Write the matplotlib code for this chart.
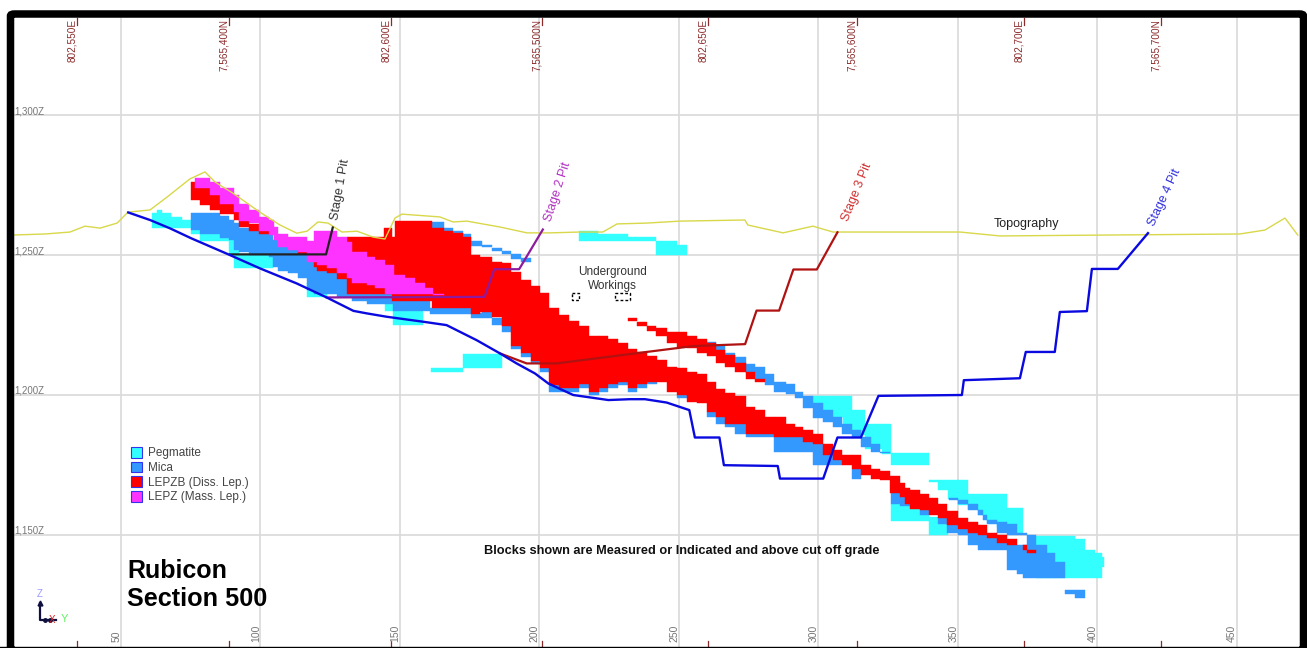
import numpy as np
from matplotlib import pyplot as plt
from matplotlib.patches import FancyBboxPatch, Patch

plt.rcParams['font.family'] = ['Liberation Sans', 'DejaVu Sans']

nan = np.nan

# section distance ticks and elevation ticks
section_ticks = [50, 100, 150, 200, 250, 300, 350, 400, 450]
elev_ticks = [1300, 1250, 1200, 1150]
elev_labels = ['1,300Z', '1,250Z', '1,200Z', '1,150Z']
grid_ticks = [34.2, 88.7, 146.8, 200.9, 260.4, 313.8, 373.6, 422.7]
grid_labels = ['802,550E', '7,565,400N', '802,600E', '7,565,500N',
               '802,650E', '7,565,600N', '802,700E', '7,565,700N']

# block columns: x edges, top elevation, bottom elevation
peg_x = [61.2, 62.8, 64.6, 67.9, 71.7, 75.1, 78.3, 85.5, 88.8, 90.6, 92.4, 104.6, 116.6, 119, 123.7, 144.6, 147.6, 158.4, 161, 172.5, 186.5,
         214.3, 221.1, 231.6, 241.8, 249.4, 252.8]
peg_top = [1265, 1266.1, 1265.2, 1263.5, 1262.6, 1259, 1257.6, 1256, 1255.4, 1251.8, 1250.6, nan, 1239.9, 1236.3, nan, 1232.7, 1230, nan, 1209.8, 1214.8, nan,
           1258.7, 1257.6, 1256.4, 1255.1, 1253.7]
peg_bot = [1259.9, 1259.9, 1259.9, 1259.9, 1259.9, 1257.6, 1255, 1255, 1250, 1245.3, 1245.3, nan, 1234.9, 1234.9, nan, 1230, 1225, nan, 1208.3, 1209.8, nan,
           1255.1, 1255.1, 1255.1, 1250.2, 1250.2]

peg2_x = [298.2, 301.7, 305.3, 308.7, 311.9, 316.7, 322.6, 325.9, 339.6, 343, 346.5, 350.1, 353.7, 357.3, 360.5, 363.9, 367.5, 373.2, 378,
          392, 395.5, 399.1, 401.5, 402.4]
peg2_top = [1199.7, 1199.7, 1199.7, 1199.7, 1194.8, 1189.6, 1189.6, 1179.4, 1169.7, 1169.7, 1169.7, 1169.7, 1164.7, 1164.7, 1164.7, 1164.7, 1159.6, nan, 1149.6,
            1148.6, 1144.7, 1143.5, 1142.1]
peg2_bot = [1197, 1194, 1192.2, 1189.2, 1185.6, 1180.8, 1178.8, 1175.1, 1168.9, 1165.9, 1162.9, 1160.6, 1159.4, 1157, 1154.6, 1152.8, 1150.7, nan, 1134.7,
            1134.7, 1134.7, 1134.7, 1138.5]

peg3_x = [325.9, 329.2, 332.8, 336.4, 339.6, 343, 346.5]
peg3_top = [1160.9, 1160.2, 1159.4, 1157.6, 1156.4, 1154.6]
peg3_bot = [1154.9, 1154.9, 1154.9, 1154.9, 1149.8, 1149.8]

mica_x = [75.1, 78.3, 85.5, 88.8, 90.6, 92.4, 95.9, 99.6, 103.2, 104.6, 106.4, 110, 113.3, 116.6, 119, 123.7, 127.3, 132.7, 138.1, 144.6, 147.6, 151.8, 160.8, 175.5, 179.3, 182.9, 186.5, 189.7,
          193.2, 196.8, 200.2, 203.5, 207.1, 214.3, 217.6, 221.2, 224.7, 228.2, 231.8, 235.1, 238.4, 242, 249.4, 252.8, 259.9, 263.3, 266.5, 270.1, 274, 284, 298.2, 301.7, 308.3, 311.9, 315.2]
mica_top = [1265.2, 1265.2, 1264, 1262.6, 1261.4, 1259.9, 1258.8, 1257.6, 1257.2, 1255.4, 1253, 1251.8, 1251.2, 1250, 1247.7, 1245.3, 1243.5, 1241.3, 1239.7, 1237.5, 1236.3, 1233.9, 1231.2, 1229.2, 1230, 1227.7, 1225, 1217.5,
            1214.9, 1212.5, 1209.7, 1203.5, 1202.6, 1203.8, 1201.2, 1202.4, 1203.8, 1204.5, 1202.4, 1203.9, 1204.5, nan, 1200, nan, 1194, 1192, 1189.6, 1189.6, 1186, 1184.8, 1182.4, 1178.5, nan, 1173.4]
mica_bot = [1259, 1257.6, 1256, 1255.4, 1251.8, 1251.2, 1250, 1250, 1249.4, 1245.9, 1244.4, 1243.5, 1242, 1237.5, 1236.1, 1236.1, 1234.9, 1233.7, 1232.7, 1232.7, 1230.1, 1230.1, 1228.9, 1227.7, 1227.7, 1225, 1222.6, 1216.3,
            1213.7, 1211.3, 1208.3, 1201.2, 1201.2, 1202.4, 1200, 1201.2, 1202.4, 1203.5, 1201.2, 1202.4, 1203.8, nan, 1198.8, nan, 1192.2, 1189.8, 1188.4, 1186, 1184.8, 1179.7, 1174.9, 1174.9, nan, 1169.8]

mica2_x = [325.9, 329.2, 332.8, 336.4, 339.6, 343, 346.2, 350.1, 353.7, 357.3, 360.5, 363.9, 367.5, 371.3, 373.2, 381.8, 384.8, 388.4]
mica2_top = [1165, 1163.5, nan, 1159, nan, 1156.4, 1153.8, 1152.2, 1150.7, 1149.8, 1149.2, 1147.1, 1146.2, 1146.2, 1146.2, 1143.5, 1140.3]
mica2_bot = [1160.9, 1160.2, nan, 1157.2, nan, 1153.8, 1150.7, 1149.8, 1146.2, 1144.7, 1144.7, 1144.7, 1137.3, 1136.1, 1134.7, 1134.7, 1134.7]

mica_up_x = [161.4, 165.6, 169.1, 172.5, 175.5, 179.3, 183.1, 186.5, 189.9, 193.2, 197.1]
mica_up_top = [1262, 1259.9, 1258.8, 1257.6, 1255, 1253.6, 1252.7, 1251.5, 1250.3, 1249.1]
mica_up_bot = [1259.9, 1258.8, 1257.6, 1255, 1253.4, 1252.8, 1251.5, 1250.3, 1248.8, 1247.4]

mica_mid_x = [259.9, 263.3, 266.5, 270.1, 274, 277.4, 280.8, 284, 288.4, 291.6, 294.6, 298.2, 301.7, 305.1, 308.3, 311.9, 315.2, 318.7, 322, 325.6]
mica_mid_top = [1218.8, 1217.5, 1214.9, 1213.7, 1211.1, 1209.9, 1207.4, 1204.5, 1203.8, 1200.9, 1199.7, 1197.3, 1194.6, 1192.2, 1189.6, 1187.4, 1184.8, 1182.4, 1179.7]
mica_mid_bot = [1217.5, 1214.9, 1213.4, 1211.1, 1207.7, 1205.6, 1203.5, 1201.2, 1200.2, 1198.8, 1195.2, 1191.6, 1190.4, 1188.6, 1186.2, 1185.1, 1181.5, 1179.7, 1179.1]

mica_low_x = [346.9, 350.1, 353.7, 357.3, 359.1, 360.5, 363.9, 367.5, 371.3, 374.6, 378]
mica_low_top = [1163.3, 1162.3, 1160.9, 1158.8, 1157.2, 1155.2, 1154.6, 1153.8, 1150.7, 1149.8]
mica_low_bot = [1162.6, 1160.9, 1158.8, 1157.2, 1155.2, 1153.8, 1150.7, 1149.8, 1149.8, 1146.2]

mica_tail_x = [388.4, 392, 395.5]
mica_tail_top = [1130.1, 1130.1]
mica_tail_bot = [1128.9, 1127.4]

lepzb_left_x = [75.1, 78.3, 81.9, 85.5, 90.6, 92.4, 95.9, 99.6, 103.2, 113.3, 116.6]
lepzb_left_top = [1276.3, 1273.9, 1272, 1269, 1266, 1263, 1261, 1259, nan, 1251.5]
lepzb_left_bot = [1269.7, 1267.9, 1266.1, 1264.9, 1262.6, 1260, 1258.8, 1257.6, nan, 1250.3]

lepzb_x = [119, 120.2, 123.8, 127.3, 130.9, 144.3, 147.1, 148.2, 161.4, 165.6, 169.1, 172.5, 175.5, 178.7,
           183.1, 186.4, 189.7, 193.2, 196.8, 200.2, 203.5, 207.1, 210.7, 214.3, 217.6, 221.2, 224.7, 228.2, 231.8, 235.1, 238.4, 242,
           245.8, 249.4, 252.8, 256.3, 259.9, 263.3, 266.5, 270.1, 274, 277.4, 280.8, 284, 288.4, 291.6, 294.6, 298.2, 301.7, 305.1, 308.3, 311.9, 315.2, 318.7, 322, 325.6,
           329.2, 331, 332.8, 336.4, 339.6, 343, 346.2, 350.1, 353.7, 357.3, 360.5, 363.9, 367.5, 371.3]
lepzb_top = [1248, 1247, 1246, 1244, 1256.4, 1259.9, 1256.4, 1262.3, 1259.9, 1258.8, 1257.8, 1256.4, 1250,
             1249.5, 1247.7, 1247.1, 1244.1, 1241.1, 1239, 1236.4, 1231.3, 1228.6, 1226.5, 1224.7, 1221.2, 1221.2, 1220.2, 1218.7, 1216.3, 1215.5, 1213.9, 1212.5,
             1210.1, 1209.5, 1208.3, 1207.4, 1204.7, 1202, 1200.8, 1199.6, 1195.8, 1194.8, 1192.2, 1192.2, 1189.6, 1188.4, 1187.4, 1186, 1182.4, 1180.3, 1178.5, 1178.5, 1174.9, 1173.7, 1172.9, 1171.1,
             1168.6, 1166.9, 1165.9, 1164.7, 1163.3, 1160.9, 1158.5, 1156.1, 1154.6, 1153.4, 1150.7, 1149.8, 1148.6]
lepzb_bot = [1245.7, 1244.5, 1243.7, 1241.5, 1236.1, 1236.1, 1233.5, 1233.5, 1231.2, 1231.2, 1231.2, 1231.2, 1228.9,
             1229.8, 1227.8, 1224.7, 1217.5, 1214.9, 1212.3, 1209.5, 1203.5, 1202.6, 1202.4, 1203.8, 1201.2, 1202.4, 1203.8, 1204.5, 1202.4, 1203.9, 1204.5, 1204.7,
             1201.2, 1200, 1197.6, 1197.2, 1194, 1192, 1189.6, 1189.6, 1186, 1186, 1186, 1184.8, 1184.8, 1184.8, 1183.3, 1182.4, 1178.5, 1176.9, 1174.9, 1173.4, 1171.3, 1169.8, 1169.5, 1165,
             1163.5, 1160.9, 1159.4, 1158.8, 1157.2, 1156.1, 1153.4, 1152.2, 1150.7, 1149.8, 1148.9, 1147.1, 1146.2]

lepzb_up_x = [231.8, 235.1, 238.4, 241.8, 245.8, 249.4, 252.8, 256.3, 259.9, 263.3, 266.5, 270.1, 274, 277.4, 280.8]
lepzb_up_top = [1227.6, 1226.2, 1224.8, 1223.8, 1222.6, 1222.6, 1221.2, 1220.2, 1218.5, 1216.1, 1214.3, 1211.3, 1208.3, 1205.9]
lepzb_up_bot = [1226.5, 1224.8, 1222.9, 1221.2, 1218.7, 1217.3, 1216.7, 1214.9, 1214, 1211.3, 1210.1, 1208.3, 1205.9, 1204.5]

lepzb_tip_x = [373.2, 374.6, 378]
lepzb_tip_top = [1146.2, 1144.7]
lepzb_tip_bot = [1144.7, 1143.5]

lepz_x = [76.5, 81.9, 85.5, 90.6, 92.4, 95.9, 99.6, 103.2, 104.9, 106.4, 110, 113.3, 116.6, 119, 120.2, 123.8, 127.3, 130.9, 132.7, 138.1, 141.1, 144.7, 147.7, 151.8, 155.4, 159, 162, 165.6]
lepz_top = [1277.7, 1276.3, 1273.9, 1271.5, 1268.5, 1266.1, 1263.5, 1262.6, 1260.2, 1257.6, 1256.4, 1256.4, 1255.2, 1258.8, 1258.8, 1258.8, 1256.6, 1254.8, 1251.2, 1249.4, 1248.3, 1246.5, 1242.9, 1241.7, 1239.9, 1238.1, 1236.3]
lepz_bot = [1273.9, 1271.5, 1268.5, 1265.6, 1262.2, 1261.4, 1258.8, 1257.2, 1255.4, 1253, 1251.8, 1251.2, 1247.7, 1247.7, 1246.5, 1245.3, 1243.5, 1241.7, 1239.9, 1239.3, 1238.1, 1236.3, 1236.1, 1236.1, 1236.1, 1236.1, 1235.6]

# lines
topo_x = [10.2, 22.8, 31.7, 37.1, 42.5, 48.6, 52.5, 60.4, 66.5, 74.7, 80.1, 83.7, 90.1, 99.8, 107, 113, 116.7, 120.6, 124.2, 129.2, 134.6, 140.3, 144.6, 148.2, 150.7, 164.3, 169, 174, 185.8, 195.5, 203.8, 214.5, 222.7, 227.8, 238.5, 250.3, 273.6, 274.7, 287.3, 298, 305.2, 329.2, 350.7, 365, 400.9, 451, 460, 467.2, 471.8]
topo_z = [1257.2, 1257.6, 1258.3, 1260.4, 1259.7, 1261.5, 1265.4, 1266.2, 1270.8, 1277.3, 1279.8, 1276.2, 1272.2, 1265.4, 1260.8, 1257.9, 1258.6, 1261.9, 1261.5, 1258.3, 1258.6, 1256.5, 1255.8, 1263.3, 1264.7, 1263.7, 1261.9, 1262.2, 1260.1, 1258, 1258, 1258.3, 1258.3, 1261.2, 1261.5, 1262.2, 1262.6, 1260.8, 1258, 1260.4, 1258.3, 1258.3, 1258.3, 1256.9, 1257.2, 1257.6, 1259, 1263.3, 1257.2]

stage1_x = [125.9, 123.5, 89.1]
stage1_z = [1259.9, 1250.3, 1250.3]
stage2_x = [201.2, 192.7, 183.8, 180.3, 123.7]
stage2_z = [1259.2, 1245, 1245, 1235.1, 1234.9]
stage3_x = [306.8, 299.4, 291, 285.9, 277.8, 273.7, 255.1, 236, 206.1, 195.4, 185.8]
stage3_z = [1258.2, 1244.9, 1244.9, 1230.2, 1230.2, 1218.2, 1217.5, 1215.1, 1211.3, 1211.3, 1214.9]
stage4_x = [52.6, 60.4, 67.6, 75.3, 88.5, 99.8, 113, 123.7, 133.3, 138.1, 145.2, 158.4, 166.7, 177.5, 185.8, 191.8, 198.4, 203.2, 212.1, 224.7, 232.4, 237.8, 245.6, 253.7, 255.7, 264.5, 266.1, 285.4, 286.2, 301.7, 306.8, 315.2, 321.5, 351.4, 352.1, 372.2, 374.3, 384.7, 386.5, 396.2, 398, 407.3, 418.1]
stage4_z = [1265.3, 1262.6, 1259.6, 1256, 1250.3, 1245.3, 1239.9, 1234.9, 1230.1, 1229.2, 1228, 1226.2, 1225, 1219.6, 1214.9, 1211.3, 1207.7, 1204.1, 1200, 1198.2, 1198.5, 1198.5, 1197.3, 1194.6, 1184.8, 1184.8, 1174.9, 1174.6, 1170.1, 1170.1, 1184.8, 1184.8, 1199.7, 1200, 1205.3, 1206, 1215.4, 1215.4, 1229.7, 1230, 1245.1, 1245.1, 1257.9]

legend_names = ['Pegmatite', 'Mica', 'LEPZB (Diss. Lep.)', 'LEPZ (Mass. Lep.)']

PEG = '#33ffff'
MICA = '#3399ff'
RED = '#ff0000'
MAG = '#ff33ff'
TICK_RED = '#8b2a2a'
W, H = 1307, 648


def blocks(ax, x, top, bot, color, z=2):
    edges = np.array(x)
    top = np.array(top)
    bot = np.array(bot)
    ax.bar(edges[:-1], top - bot, width=np.diff(edges), bottom=bot, align='edge',
           color=color, edgecolor=color, linewidth=0.3, zorder=z)


def fig_text(x, y, s, **kw):
    # position given in picture pixels, for the annotation layer
    return fig.text(x / W, 1 - y / H, s, **kw)


fig = plt.figure(figsize=(W / 100, H / 100), dpi=100)
ax = fig.add_axes([0, 0, 1, 1])
ax.set_xlim(6.63, 475.1)
ax.set_ylim(1109.5, 1341.3)
ax.axis('off')

for v in section_ticks:
    ax.plot([v, v], [1109.5, 1335], color='#d9d9d9', lw=1.2, zorder=1)
    ax.text(v - 1.7, 1111.5, str(v), rotation=90, ha='center', va='bottom', fontsize=7.5, color='#777777')
for v, lab in zip(elev_ticks, elev_labels):
    ax.plot([11, 472], [v, v], color='#d9d9d9', lw=1.2, zorder=1)
    ax.text(11.8, v - 0.3, lab, ha='left', va='bottom', fontsize=7, color='#777777')
for v, lab in zip(grid_ticks, grid_labels):
    ax.plot([v, v], [1332.5, 1335], color=TICK_RED, lw=0.9, zorder=1)
    ax.plot([v, v], [1109.5, 1112], color=TICK_RED, lw=0.9, zorder=1)
    ax.text(v - 1.8, 1334.4, lab, rotation=90, ha='center', va='top', fontsize=7.2, color=TICK_RED)

blocks(ax, peg_x, peg_top, peg_bot, PEG)
blocks(ax, peg2_x, peg2_top, peg2_bot, PEG)
blocks(ax, peg3_x, peg3_top, peg3_bot, PEG)
blocks(ax, mica_x, mica_top, mica_bot, MICA, 3)
blocks(ax, mica2_x, mica2_top, mica2_bot, MICA, 3)
blocks(ax, mica_up_x, mica_up_top, mica_up_bot, MICA, 3)
blocks(ax, mica_mid_x, mica_mid_top, mica_mid_bot, MICA, 3)
blocks(ax, mica_low_x, mica_low_top, mica_low_bot, MICA, 3)
blocks(ax, mica_tail_x, mica_tail_top, mica_tail_bot, MICA, 3)
blocks(ax, lepzb_left_x, lepzb_left_top, lepzb_left_bot, RED, 4)
blocks(ax, lepzb_x, lepzb_top, lepzb_bot, RED, 4)
blocks(ax, lepzb_up_x, lepzb_up_top, lepzb_up_bot, RED, 4)
blocks(ax, lepzb_tip_x, lepzb_tip_top, lepzb_tip_bot, RED, 4)
blocks(ax, lepz_x, lepz_top, lepz_bot, MAG, 5)

ax.plot(topo_x, topo_z, color='#d8d84a', lw=1.0, zorder=6)
ax.plot(stage3_x, stage3_z, color='#b01212', lw=1.6, zorder=7)
ax.plot(stage2_x, stage2_z, color='#8e1a9e', lw=1.6, zorder=7)
ax.plot(stage4_x, stage4_z, color='#0a0ae0', lw=1.7, zorder=8)
ax.plot(stage1_x, stage1_z, color='#222222', lw=1.6, zorder=7)

ax.text(128.5, 1273.5, 'Stage 1 Pit', rotation=80, ha='center', va='center', fontsize=9, color='#333333')
ax.text(206.6, 1272.6, 'Stage 2 Pit', rotation=72, ha='center', va='center', fontsize=9, color='#b030c0')
ax.text(313.8, 1272.6, 'Stage 3 Pit', rotation=68, ha='center', va='center', fontsize=9, color='#d03030')
ax.text(424.1, 1270.8, 'Stage 4 Pit', rotation=65, ha='center', va='center', fontsize=9, color='#3030e0')
ax.text(374.4, 1261.2, 'Topography', ha='center', va='center', fontsize=9, color='#222222')
ax.text(226.3, 1241.5, 'Underground\nWorkings', ha='center', va='center', fontsize=8.5, color='#333333', linespacing=1.15)
ax.text(251, 1144.2, 'Blocks shown are Measured or Indicated and above cut off grade',
        ha='center', va='center', fontsize=9.2, fontweight='bold', color='#111111')

# underground workings voids
ax.plot([211.5, 214, 214, 211.5, 211.5], [1236.5, 1236.5, 1234, 1234, 1236.5], color='k', lw=1, ls=(0, (2, 1.5)), zorder=6)
ax.plot([227, 232.5, 232.5, 227, 227], [1236.5, 1236.5, 1234, 1234, 1236.5], color='k', lw=1, ls=(0, (2, 1.5)), zorder=6)

handles = [Patch(facecolor=c, edgecolor='#3333ee', linewidth=0.8) for c in [PEG, MICA, RED, MAG]]
ax.legend(handles, legend_names, loc='upper left', bbox_to_anchor=(131 / W, 1 - 447 / H), frameon=False,
          fontsize=8.5, labelcolor='#444444', handlelength=0.97, handleheight=1.0, handletextpad=0.45,
          labelspacing=0.2, borderpad=0, borderaxespad=0)

fig_text(127, 578, 'Rubicon', fontsize=18, fontweight='bold', color='black')
fig_text(127, 606, 'Section 500', fontsize=18.2, fontweight='bold', color='black')

# axis triad
fig.add_artist(plt.Line2D([40 / W, 40 / W, 56 / W], [1 - 603 / H, 1 - 620 / H, 1 - 620 / H], color='#101040', lw=1.6))
fig.add_artist(plt.Line2D([40 / W], [1 - 603 / H], color='#101040', marker='^', markersize=3.5))
fig.add_artist(plt.Line2D([45 / W, 50 / W], [1 - 620 / H, 1 - 620 / H], color='#101040', marker='o', markersize=2.5, lw=0))
fig_text(37, 597, 'Z', fontsize=7, color='#9999ff')
fig_text(49, 623, 'X', fontsize=7, color='#dd2222')
fig_text(61, 622, 'Y', fontsize=8, color='#66ee66')

frame = FancyBboxPatch((10.5 / W, 1 - 650 / H), 1293 / W, 636 / H, boxstyle='round,pad=0,rounding_size=0.003',
                       transform=fig.transFigure, facecolor='none', edgecolor='black', linewidth=5.4, zorder=10)
fig.add_artist(frame)
fig.add_artist(plt.Line2D([0, 1], [0.6 / H, 0.6 / H], color='black', lw=1.0))

fig.savefig('out.png', dpi=100)
